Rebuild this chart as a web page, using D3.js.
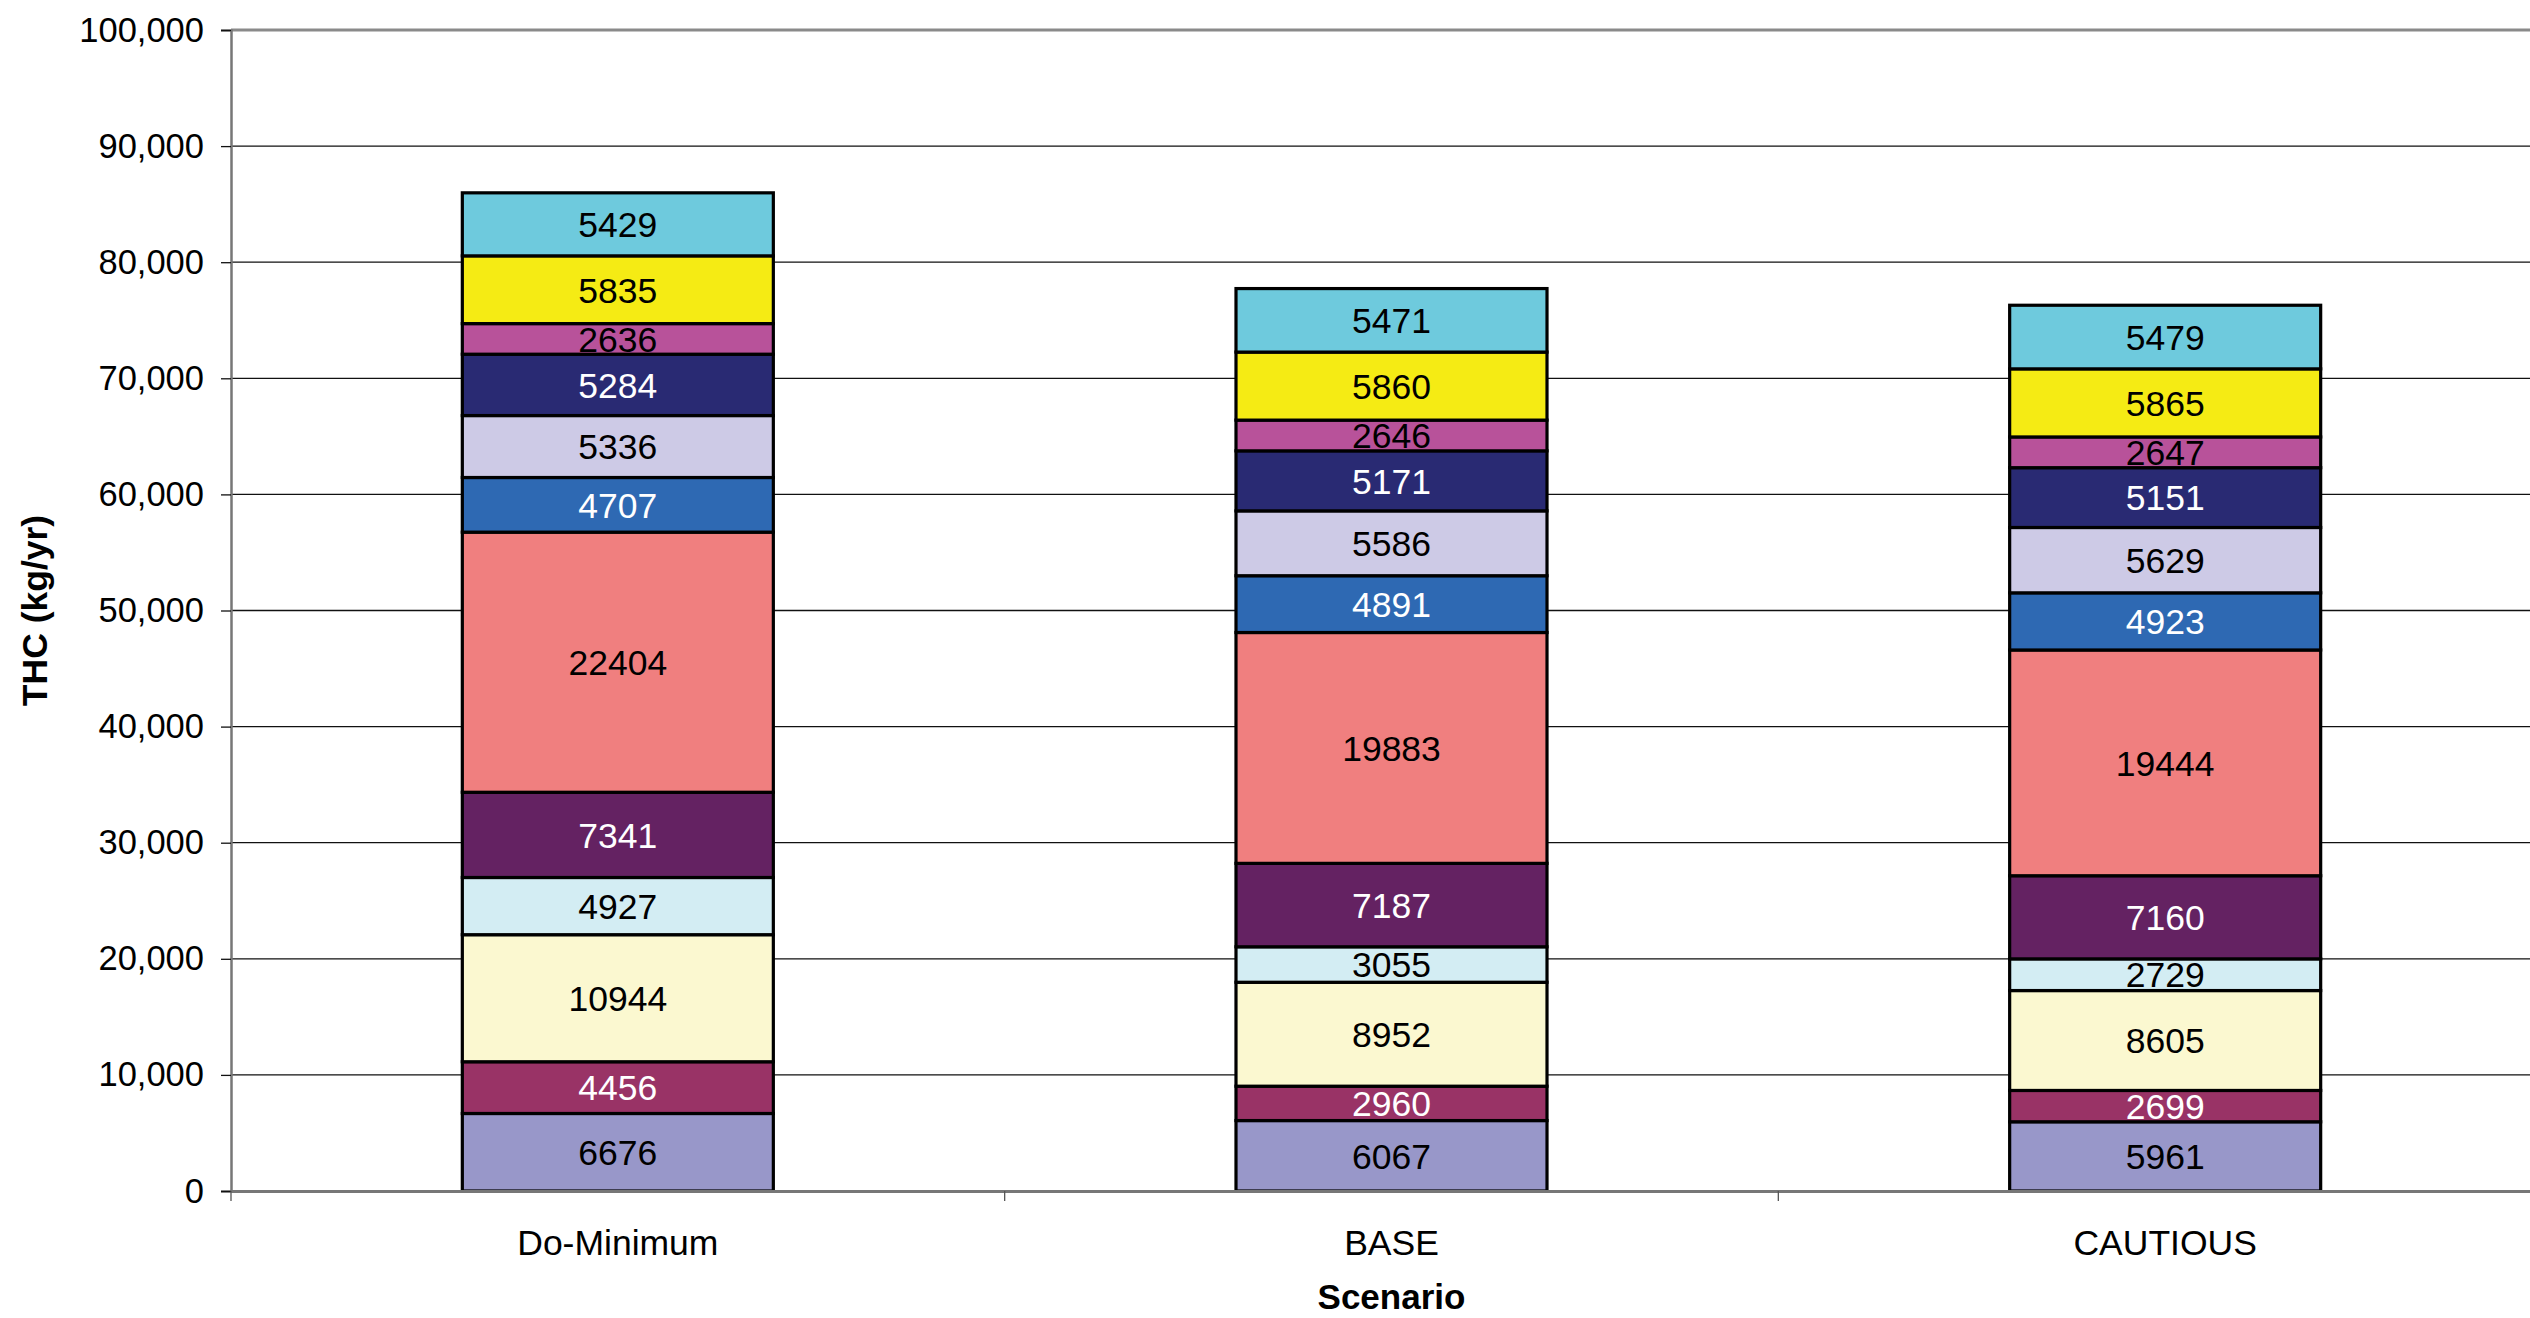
<!DOCTYPE html>
<html>
<head>
<meta charset="utf-8">
<script src="https://cdn.jsdelivr.net/npm/d3@7"></script>
<style>
	body { margin: 0; background: #fff; }
	svg { display: block; overflow: hidden; }
	text { font-family: "Liberation Sans", Arial, sans-serif; }
</style>
</head>
<body>
<div id="chart"></div>
<script>
// scenarios along the x axis
const scenarios = ["Do-Minimum", "BASE", "CAUTIOUS"];

// stacked components, bottom to top
const seriesDoMin = [6676, 4456, 10944, 4927, 7341, 22404, 4707, 5336, 5284, 2636, 5835, 5429];
const seriesBase = [6067, 2960, 8952, 3055, 7187, 19883, 4891, 5586, 5171, 2646, 5860, 5471];
const seriesCautious = [5961, 2699, 8605, 2729, 7160, 19444, 4923, 5629, 5151, 2647, 5865, 5479];

const yTicks = [0, 10000, 20000, 30000, 40000, 50000, 60000, 70000, 80000, 90000, 100000];

const fills = ["#9897c9", "#993366", "#fbf8d0", "#d3edf3", "#642262", "#f07f7f",
	"#2e69b3", "#cdcae6", "#292a73", "#b8529a", "#f5eb14", "#6ecadd"];
const labelColors = ["#000", "#fff", "#000", "#000", "#fff", "#000",
	"#fff", "#000", "#fff", "#000", "#000", "#000"];

const width = 2530, height = 1318;
const plotLeft = 231, plotRight = 2552, plotTop = 30, plotBottom = 1191;

const svg = d3.select("#chart")
	.append("svg")
	.attr("width", width)
	.attr("height", height);

const xscale = d3.scaleBand()
	.domain(scenarios)
	.range([plotLeft, plotRight])
	.padding(0);

const yscale = d3.scaleLinear()
	.domain([0, 100000])
	.range([plotBottom, plotTop]);

// gridlines
svg.append("g")
	.selectAll("line")
	.data(yTicks.slice(1, -1))
	.join("line")
	.attr("x1", plotLeft).attr("x2", plotRight)
	.attr("y1", d => yscale(d)).attr("y2", d => yscale(d))
	.attr("stroke", "#111")
	.attr("stroke-width", 1.3);

// top border
svg.append("line")
	.attr("x1", plotLeft).attr("x2", plotRight)
	.attr("y1", yscale(100000)).attr("y2", yscale(100000))
	.attr("stroke", "#8a8a8a")
	.attr("stroke-width", 3);

const y_axis = d3.axisLeft(yscale)
	.tickValues(yTicks)
	.tickSize(10)
	.tickPadding(17)
	.tickFormat(d3.format(","));

const yAxisG = svg.append("g")
	.attr("transform", "translate(" + plotLeft + ",0)")
	.call(y_axis);
yAxisG.select(".domain").attr("stroke", "#777").attr("stroke-width", 2.5);
yAxisG.selectAll(".tick line").attr("stroke", "#111").attr("stroke-width", 1.3);
yAxisG.selectAll(".tick text")
	.attr("font-size", 34.5)
	.attr("fill", "#000")
	.style("font-family", "'Liberation Sans', Arial, sans-serif");

// stacked data
const rows = scenarios.map((s, i) => {
	const vals = [seriesDoMin, seriesBase, seriesCautious][i];
	const row = { scenario: s };
	vals.forEach((v, j) => row["s" + j] = v);
	return row;
});
const keys = seriesDoMin.map((_, j) => "s" + j);
const stacked = d3.stack().keys(keys)(rows);

const barW = xscale.bandwidth() * 0.402;

const layers = svg.append("g")
	.selectAll("g")
	.data(stacked)
	.join("g")
	.attr("fill", (d, i) => fills[i]);

layers.selectAll("rect")
	.data(d => d)
	.join("rect")
	.attr("x", d => xscale(d.data.scenario) + xscale.bandwidth() / 2 - barW / 2)
	.attr("y", d => yscale(d[1]))
	.attr("width", barW)
	.attr("height", d => yscale(d[0]) - yscale(d[1]))
	.attr("stroke", "#000")
	.attr("stroke-width", 3.2);

layers.each(function(layer, i) {
	d3.select(this).selectAll("text")
		.data(layer)
		.join("text")
		.attr("x", d => xscale(d.data.scenario) + xscale.bandwidth() / 2)
		.attr("y", d => (yscale(d[0]) + yscale(d[1])) / 2)
		.attr("dy", "0.36em")
		.attr("text-anchor", "middle")
		.attr("font-size", 35.5)
		.attr("fill", labelColors[i])
		.text(d => d[1] - d[0]);
});

// x axis
const x_axis = d3.axisBottom(xscale)
	.tickSize(0)
	.tickPadding(39);

const xAxisG = svg.append("g")
	.attr("transform", "translate(0," + plotBottom + ")")
	.call(x_axis);
xAxisG.select(".domain").attr("stroke", "#777").attr("stroke-width", 3);
xAxisG.selectAll(".tick text")
	.attr("font-size", 35.5)
	.attr("fill", "#000")
	.style("font-family", "'Liberation Sans', Arial, sans-serif");

// category separators
svg.append("g")
	.selectAll("line")
	.data(scenarios)
	.join("line")
	.attr("x1", d => xscale(d)).attr("x2", d => xscale(d))
	.attr("y1", plotBottom).attr("y2", plotBottom + 10)
	.attr("stroke", "#555")
	.attr("stroke-width", 1.3);

// axis titles
svg.append("text")
	.attr("x", (plotLeft + plotRight) / 2)
	.attr("y", 1309)
	.attr("text-anchor", "middle")
	.attr("font-size", 35)
	.attr("font-weight", "bold")
	.text("Scenario");

svg.append("text")
	.attr("transform", "translate(47," + (plotTop + plotBottom) / 2 + ") rotate(-90)")
	.attr("text-anchor", "middle")
	.attr("font-size", 35.5)
	.attr("font-weight", "bold")
	.text("THC (kg/yr)");
</script>
</body>
</html>
